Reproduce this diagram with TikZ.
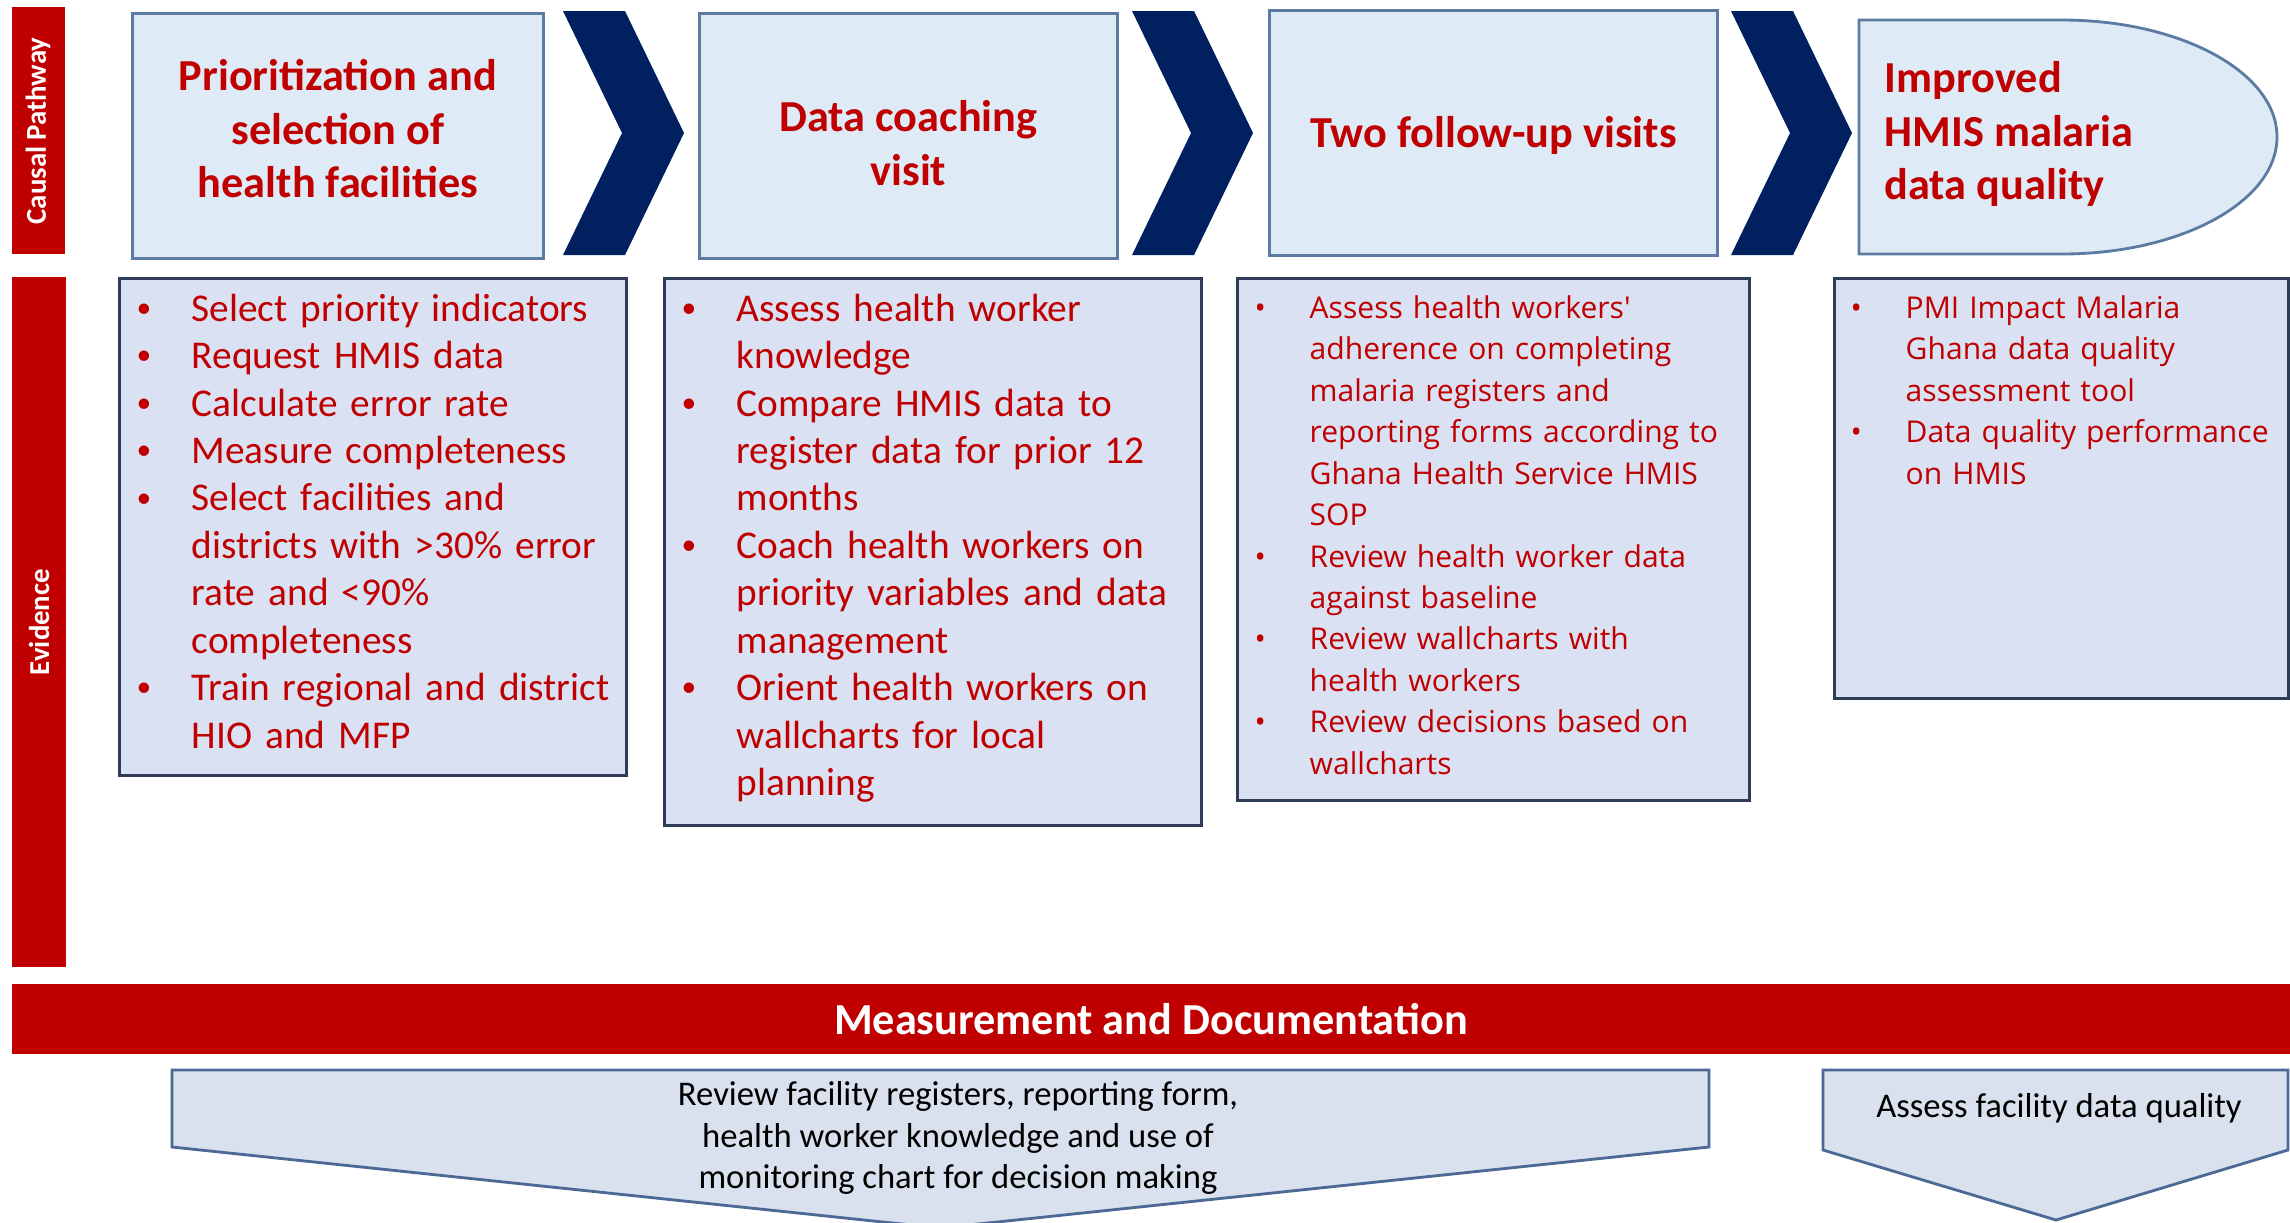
\documentclass[tikz,border=0pt]{standalone}
\usepackage{fontspec}
\setmainfont{Carlito}
\newfontfamily\opensans{Open Sans}
\usepackage{enumitem}

\definecolor{pathred}{HTML}{C00000}
\definecolor{chevnavy}{HTML}{002060}
\definecolor{stepfill}{HTML}{DEEAF6}
\definecolor{stepline}{HTML}{5B7BA3}
\definecolor{evfill}{HTML}{D9E1F2}
\definecolor{evline}{HTML}{2F3C58}
\definecolor{docfill}{HTML}{D9E0EE}
\definecolor{docline}{HTML}{4C6894}

% bullet lists of the evidence boxes
\newenvironment{evitems}{\begin{itemize}[leftmargin=5.5mm,labelwidth=5.5mm,labelsep=0pt,align=left,nosep,
  label={\raisebox{0.2ex}{\scalebox{0.75}{\textbullet}}}]}{\end{itemize}}
\newenvironment{smallitems}{\begin{itemize}[leftmargin=5.5mm,labelwidth=5.5mm,labelsep=0pt,align=left,nosep,
  label={\textbullet}]}{\end{itemize}}

\begin{document}
\begin{tikzpicture}[x=0.1mm,y=-0.1mm,
    stepbox/.style={draw=stepline,line width=0.8pt,fill=stepfill,anchor=north west,inner sep=0pt},
    steptitle/.style={align=center,inner sep=0pt,text=pathred,font=\bfseries\fontsize{12.6}{15.2}\selectfont},
    evbox/.style={draw=evline,line width=0.8pt,fill=evfill,anchor=north west,inner sep=0pt},
    evlist/.style={anchor=north west,inner sep=0pt,text=pathred,text width=#1,
      font=\fontsize{11.2}{13.5}\selectfont},
    smalllist/.style={evlist=#1,font=\opensans\fontsize{8.55}{11.8}\selectfont},
    barlabel/.style={rotate=90,text=white,font=\bfseries\fontsize{8.2}{9}\selectfont},
    docshape/.style={draw=docline,line width=0.8pt,fill=docfill},
    doctext/.style={align=center,font=\fontsize{9.85}{11.8}\selectfont}]
  \useasboundingbox (0,0) rectangle (2290,1222);

  % side bars
  \fill[pathred] (12,7) rectangle (65,254);
  \node[barlabel] (cplabel) at (38,131) {Causal Pathway};
  \fill[pathred] (12,277) rectangle (66,967);
  \node[barlabel] (evlabel) at (39,622) {Evidence};

  % causal pathway
  \node[stepbox,minimum width=41.1mm,minimum height=24.5mm] (prio) at (131,12) {};
  \node[steptitle] (priotext) at ([yshift=0.7mm]prio.center)
    {Prioritization and\\selection of\\health facilities};
  \node[stepbox,minimum width=41.8mm,minimum height=24.5mm] (coach) at (698,12) {};
  \node[steptitle] (coachtext) at ([yshift=-0.7mm]coach.center) {Data coaching\\visit};
  \node[stepbox,minimum width=44.8mm,minimum height=24.5mm] (follow) at (1268,9) {};
  \node[steptitle] (followtext) at ([yshift=-0.3mm]follow.center) {Two follow-up visits};
  \filldraw[draw=stepline,line width=0.8pt,fill=stepfill] (1859,20) -- (2062,20)
    arc[start angle=90,end angle=-90,x radius=21.5mm,y radius=11.7mm] -- (1859,254) -- cycle;
  \node[steptitle,anchor=west,align=left] (outcome) at (1884,134)
    {Improved\\HMIS malaria\\data quality};

  % chevrons
  \foreach \x in {563,1132,1731}
    \fill[chevnavy] (\x,11) -- ++(62,0) -- ++(59,122) -- ++(-59,122) -- ++(-62,0) -- ++(59,-122) -- cycle;

  % evidence
  \node[evbox,minimum width=50.7mm,minimum height=49.7mm] (ev1) at (118,277) {};
  \node[evlist=60mm] (ev1list) at ([xshift=1.8mm,yshift=0.4mm]ev1.north west) {%
    \begin{evitems}
      \item Select priority indicators
      \item Request HMIS data
      \item Calculate error rate
      \item Measure completeness
      \item Select facilities and\\districts with >30\% error\\rate and <90\%\\completeness
      \item Train regional and district\\HIO and MFP
    \end{evitems}};

  \node[evbox,minimum width=53.7mm,minimum height=54.7mm] (ev2) at (663,277) {};
  \node[evlist=60mm] (ev2list) at ([xshift=1.8mm,yshift=0.4mm]ev2.north west) {%
    \begin{evitems}
      \item Assess health worker\\knowledge
      \item Compare HMIS data to\\register data for prior 12\\months
      \item Coach health workers on\\priority variables and data\\management
      \item Orient health workers on\\wallcharts for local\\planning
    \end{evitems}};

  \node[evbox,minimum width=51.2mm,minimum height=52.2mm] (ev3) at (1236,277) {};
  \node[smalllist=60mm] (ev3list) at ([xshift=1.8mm,yshift=0.1mm]ev3.north west) {%
    \begin{smallitems}
      \item Assess health workers'\\adherence on completing\\malaria registers and\\reporting forms according to\\Ghana Health Service HMIS\\SOP
      \item Review health worker data\\against baseline
      \item Review wallcharts with\\health workers
      \item Review decisions based on\\wallcharts
    \end{smallitems}};

  \node[evbox,minimum width=45.4mm,minimum height=42mm] (ev4) at (1833,277) {};
  \node[smalllist=50mm] (ev4list) at ([xshift=1.7mm,yshift=0.1mm]ev4.north west) {%
    \begin{smallitems}
      \item PMI Impact Malaria\\Ghana data quality\\assessment tool
      \item Data quality performance\\on HMIS
    \end{smallitems}};

  % measurement and documentation
  \fill[pathred] (12,984) rectangle (2290,1054);
  \node[text=white,font=\bfseries\fontsize{12.6}{15}\selectfont] (measure) at (1151,1019)
    {Measurement and Documentation};
  \filldraw[docshape] (172,1070) -- (1709,1070) -- (1709,1147) -- (940,1228) -- (172,1147) -- cycle;
  \node[doctext] (doc1) at (958,1138)
    {Review facility registers, reporting form,\\health worker knowledge and use of\\monitoring chart for decision making};
  \filldraw[docshape] (1823,1070) -- (2288,1070) -- (2288,1150) -- (2056,1220) -- (1823,1150) -- cycle;
  \node[doctext] (doc2) at (2059,1108) {Assess facility data quality};
\end{tikzpicture}
\end{document}
